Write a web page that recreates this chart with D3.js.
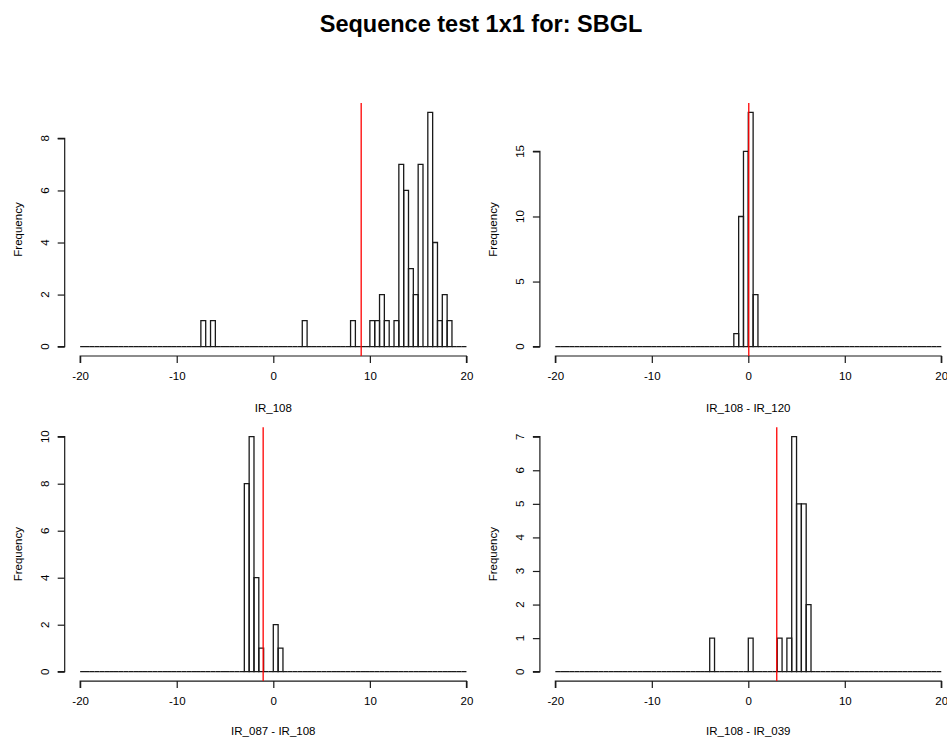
<!DOCTYPE html>
<html>
<head>
<meta charset="utf-8">
<script src="https://cdn.jsdelivr.net/npm/d3@7"></script>
<style>
  body { margin: 0; background: #fff; }
  text { font-family: "Liberation Sans", Arial, sans-serif; fill: #000; }
</style>
</head>
<body>
<div id="chart"></div>
<script>
// histogram bins are 0.5 wide on -20..20, only non-empty bins listed
var titre = "Sequence test 1x1 for: SBGL";

var ir108Bins   = [-7.5, -6.5, 3, 8, 10, 10.5, 11, 11.5, 12.5, 13, 13.5, 14, 14.5, 15, 16, 16.5, 17, 17.5, 18];
var ir108Counts = [1, 1, 1, 1, 1, 1, 2, 1, 1, 7, 6, 3, 2, 7, 9, 4, 1, 2, 1];

var d108120Bins   = [-1.5, -1, -0.5, 0, 0.5];
var d108120Counts = [1, 10, 15, 18, 4];

var d087108Bins   = [-3, -2.5, -2, -1.5, 0, 0.5];
var d087108Counts = [8, 10, 4, 1, 2, 1];

var d108039Bins   = [-4, 0, 3, 4, 4.5, 5, 5.5, 6];
var d108039Counts = [1, 1, 1, 1, 7, 5, 5, 2];

var seuils = [9.1, 0.05, -1.05, 2.95];   // red vertical lines
var labelsX = ["IR_108", "IR_108 - IR_120", "IR_087 - IR_108", "IR_108 - IR_039"];
var ticksX = [-20, -10, 0, 10, 20];
var ticksY = [[0, 2, 4, 6, 8], [0, 5, 10, 15], [0, 2, 4, 6, 8, 10], [0, 1, 2, 3, 4, 5, 6, 7]];

var largeurBin = 0.5;

function remplitBins(bins, counts) {
    var tout = [];
    for (var i = 0; i < 80; i++) {
        var debut = -20 + i * largeurBin;
        var k = bins.indexOf(debut);
        tout.push({x0: debut, x1: debut + largeurBin, n: k >= 0 ? counts[k] : 0});
    }
    return tout;
}

var panneaux = [
    {data: remplitBins(ir108Bins, ir108Counts),     left: 64.7,  top: 103,   right: 481.9, bottom: 356,   lab: 56},
    {data: remplitBins(d108120Bins, d108120Counts), left: 539.9, top: 103,   right: 956.7, bottom: 356,   lab: 56},
    {data: remplitBins(d087108Bins, d087108Counts), left: 64.7,  top: 427.3, right: 481.9, bottom: 681.1, lab: 54},
    {data: remplitBins(d108039Bins, d108039Counts), left: 539.9, top: 427.3, right: 956.7, bottom: 681.1, lab: 54}
];

var svg = d3.select("#chart").append("svg").attr("width", 947).attr("height", 740);

svg.append("text")
    .attr("x", 481).attr("y", 32)
    .attr("text-anchor", "middle")
    .style("font-size", "23.5px").style("font-weight", "bold")
    .text(titre);

panneaux.forEach(function(p, i) {
    var maxN = d3.max(p.data, function(d) { return d.n; });
    var ext = 0.04 * 40;
    var x = d3.scaleLinear().domain([-20 - ext, 20 + ext]).range([p.left, p.right]);
    var y = d3.scaleLinear().domain([-0.04 * maxN, maxN * 1.04]).range([p.bottom, p.top]);
    var g = svg.append("g");

    // bars (paths so empty bins still draw the base line)
    g.selectAll("path.bar").data(p.data).enter().append("path")
        .attr("class", "bar")
        .attr("d", function(d) {
            return "M" + x(d.x0) + "," + y(0) + " V" + y(d.n) + " H" + x(d.x1) + " V" + y(0) + " Z";
        })
        .attr("fill", "none").attr("stroke", "#1a1a1a").attr("stroke-width", 1.3);

    // x axis
    var ax = d3.axisBottom(x).tickValues(ticksX).tickSize(7).tickPadding(9).tickFormat(d3.format("d"));
    var gx = g.append("g").attr("transform", "translate(0," + p.bottom + ")").call(ax);
    gx.select(".domain").attr("d", "M" + x(-20) + ",7V0H" + x(20) + "V7").attr("stroke", "#1a1a1a").attr("stroke-width", 1.2);
    gx.selectAll(".tick line").attr("stroke", "#1a1a1a").attr("stroke-width", 1.2);
    gx.selectAll(".tick text").style("font-size", "11.5px").style("font-family", "Liberation Sans, Arial, sans-serif")
        .text(function(d) { return d < 0 ? "-" + Math.abs(d) : d; });

    // y axis
    var ty = ticksY[i];
    var ay = d3.axisLeft(y).tickValues(ty).tickSize(7).tickFormat("");
    var gy = g.append("g").attr("transform", "translate(" + p.left + ",0)").call(ay);
    gy.select(".domain").attr("d", "M-7," + y(ty[0]) + "H0V" + y(ty[ty.length - 1]) + "H-7").attr("stroke", "#1a1a1a").attr("stroke-width", 1.2);
    gy.selectAll(".tick line").attr("stroke", "#1a1a1a").attr("stroke-width", 1.2);
    g.selectAll("text.ylab").data(ty).enter().append("text")
        .attr("class", "ylab")
        .attr("transform", function(d) { return "translate(" + (p.left - 20) + "," + y(d) + ") rotate(-90)"; })
        .attr("text-anchor", "middle").attr("dy", "0.35em")
        .style("font-size", "11.5px")
        .text(function(d) { return d; });

    // axis titles
    g.append("text")
        .attr("x", x(0)).attr("y", p.bottom + p.lab)
        .attr("text-anchor", "middle").style("font-size", "11.5px")
        .text(labelsX[i]);
    g.append("text")
        .attr("transform", "translate(" + (p.left - 47) + "," + ((p.top + p.bottom) / 2) + ") rotate(-90)")
        .attr("text-anchor", "middle").attr("dy", "0.35em")
        .style("font-size", "11.5px")
        .text("Frequency");

    // red threshold line
    g.append("line")
        .attr("x1", x(seuils[i])).attr("x2", x(seuils[i]))
        .attr("y1", p.top).attr("y2", p.bottom)
        .attr("stroke", "#ff0000").attr("stroke-width", 1.3);
});
</script>
</body>
</html>
